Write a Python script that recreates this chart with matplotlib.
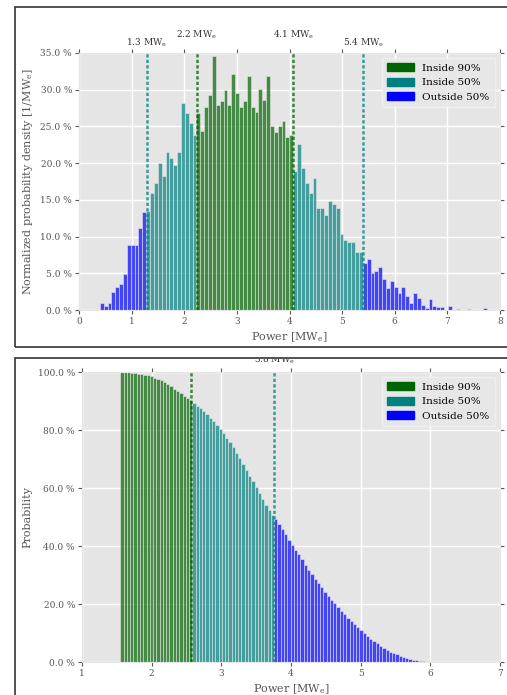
import numpy as np
import matplotlib
matplotlib.use('Agg')
import matplotlib.pyplot as plt
from matplotlib.patches import Patch, Rectangle
from matplotlib.ticker import FuncFormatter, MultipleLocator
from matplotlib.transforms import (Bbox, TransformedBbox,
                                   blended_transform_factory,
                                   ScaledTranslation)

# top panel: histogram of power (density in % per MWe)
pdf_start = 0.395
pdf_width = 0.0735
pdf_values = [
    0.9, 0.55, 1.0, 2.5, 3.1, 3.5, 4.9, 8.9, 8.9, 8.9, 11.1, 13.3,
    13.5, 16.0, 17.3, 20.0, 18.2, 21.5, 20.7, 19.8, 21.5, 28.2, 26.8, 25.5,
    23.8,
    26.8, 24.4, 27.6, 29.3, 34.6, 27.9, 28.4, 30.0, 27.9, 32.1, 29.5, 27.6,
    28.4, 31.8, 27.7, 26.9, 30.1, 28.6, 31.8, 25.0, 24.3, 25.1, 25.7, 23.5,
    23.8,
    18.9, 22.6, 19.4, 17.3, 16.0, 18.0, 13.9, 13.9, 12.9, 14.9, 14.4, 13.9,
    10.4, 9.6, 9.2, 9.3, 7.9, 7.9,
    6.4, 6.9, 5.0, 5.35, 5.8, 4.2, 3.0, 4.0, 3.1, 2.3, 3.1, 1.9, 1.0, 2.3,
    1.6, 0.7, 0.3, 1.5, 0.5, 0.4, 0.4, 0.0, 0.6, 0.0, 0.2, 0.0, 0.0, 0.1,
    0.0, 0.0, 0.0, 0.3,
]
pdf_lines = [1.29, 2.24, 4.07, 5.40]

# bottom panel: exceedance probability (%)
cdf_start = 1.55
cdf_width = 0.047
cdf_values = [
    100.0, 100.0, 100.0, 99.8, 99.6, 99.4, 99.2, 99.0, 98.8, 98.5, 98.1,
    97.7, 97.2, 96.7, 95.9, 95.1, 94.3, 93.5, 92.7, 91.8, 91.0, 90.2,
    89.3, 88.4, 87.6, 86.6, 85.4, 84.2, 83.0, 81.6, 80.2, 78.8, 77.3, 75.7,
    74.0, 72.2, 70.2, 68.2, 66.3, 64.3, 62.3, 60.3, 58.2, 56.1, 54.1, 52.5,
    50.7,
    49.2, 47.6, 46.0, 44.0, 42.0, 40.3, 38.7, 37.1, 35.4, 33.5, 31.8, 30.2,
    28.7, 27.1, 25.8, 24.3, 22.9, 21.5, 20.2, 18.9, 17.7, 16.5, 15.3, 14.1,
    13.0, 11.9, 10.9, 9.9, 9.0, 8.1, 7.2, 6.4, 5.6, 4.8, 4.2, 3.6, 3.1, 2.6,
    2.1, 1.7, 1.35, 1.0, 0.75, 0.55, 0.38, 0.22, 0.12, 0.05, 0.0,
]
cdf_lines = [2.57, 3.76]

legend_labels = ['Inside 90%', 'Inside 50%', 'Outside 50%']
GREEN, TEAL, BLUE = 'darkgreen', 'teal', 'blue'

plt.rcParams.update({
    'font.family': ['DejaVu Serif'],
    'mathtext.fontset': 'dejavuserif',
    'axes.facecolor': '#E5E5E5',
    'axes.edgecolor': '#E5E5E5',
    'axes.labelcolor': '#555555',
    'xtick.color': '#555555',
    'ytick.color': '#555555',
    'xtick.direction': 'out',
    'ytick.direction': 'out',
    'grid.color': 'white',
    'grid.linewidth': 1.0,
})

W, H = 507, 695
fig = plt.figure(figsize=(W / 100, H / 100), dpi=100)


def px_rect(x0, y0, x1, y1):
    # pixel box (top-left origin) -> figure fraction rect
    return [x0 / W, 1 - y1 / H, (x1 - x0) / W, (y1 - y0) / H]


def style_axes(ax):
    ax.set_axisbelow(True)
    ax.grid(True)
    ax.tick_params(top=True, right=True, length=3, width=0.8, labelsize=6.5,
                   pad=2)
    ax.yaxis.set_major_formatter(FuncFormatter(lambda v, p: '%.1f %%' % v))


def draw_bars(ax, start, width, values, colors):
    centers = start + width * (np.arange(len(values)) + 0.5)
    ax.bar(centers, values, width=width, color=colors, alpha=0.7,
           edgecolor='#EEEEEE', linewidth=0.5, zorder=2)
    return centers


def mark_line(ax, x, color, dy, clip=None):
    ax.axvline(x, color=color, ls=(0, (1.3, 0.9)), lw=1.8, alpha=0.75,
               zorder=3)
    trans = (blended_transform_factory(ax.transData, ax.transAxes)
             + ScaledTranslation(0, dy / 100, fig.dpi_scale_trans))
    t = ax.text(x, 1.0, r'%.1f MW$_\mathrm{e}$' % x, transform=trans,
                ha='center', va='center', fontsize=6.5, color='#333333')
    if clip is not None:
        t.set_clip_box(TransformedBbox(Bbox.from_extents(*clip),
                                       fig.transFigure))
        t.set_clip_on(True)


def add_legend(ax):
    handles = [Patch(facecolor=c, edgecolor=c) for c in (GREEN, TEAL, BLUE)]
    leg = ax.legend(handles, legend_labels, loc='upper right', fontsize=7.5,
                    frameon=True, fancybox=False, handlelength=2.6,
                    handleheight=0.8, borderpad=0.5, labelspacing=0.45)
    leg.get_frame().set_facecolor('#E8E8E8')
    leg.get_frame().set_edgecolor('#F2F2F2')


# panel frames
fig.patches.append(Rectangle((15 / W, 1 - 347 / H), 1.2, 340 / H,
                             transform=fig.transFigure, fill=False,
                             edgecolor='#333333', lw=1.2))
fig.patches.append(Rectangle((15 / W, -0.05), 1.2, 1 - 358 / H + 0.05,
                             transform=fig.transFigure, fill=False,
                             edgecolor='#333333', lw=1.2))

# ---- top: probability density ----
ax1 = fig.add_axes(px_rect(79, 53, 500, 310))
style_axes(ax1)
centers = pdf_start + pdf_width * (np.arange(len(pdf_values)) + 0.5)
cols = []
for c in centers:
    if c < pdf_lines[0] or c > pdf_lines[3]:
        cols.append(BLUE)
    elif pdf_lines[1] < c < pdf_lines[2]:
        cols.append(GREEN)
    else:
        cols.append(TEAL)
draw_bars(ax1, pdf_start, pdf_width, pdf_values, cols)
for x, col, dy in zip(pdf_lines, [TEAL, GREEN, GREEN, TEAL],
                      [10, 18, 18, 10]):
    mark_line(ax1, x, col, dy)
ax1.set_xlim(0, 8)
ax1.set_ylim(0, 35)
ax1.xaxis.set_major_locator(MultipleLocator(1))
ax1.yaxis.set_major_locator(MultipleLocator(5))
ax1.set_xlabel(r'Power [MW$_\mathrm{e}$]', fontsize=8, labelpad=3)
ax1.set_ylabel(r'Normalized probability density [1/MW$_\mathrm{e}$]',
               fontsize=8, labelpad=4)
add_legend(ax1)

# ---- bottom: exceedance probability ----
ax2 = fig.add_axes(px_rect(82, 372, 500, 662))
style_axes(ax2)
centers = cdf_start + cdf_width * (np.arange(len(cdf_values)) + 0.5)
cols = [GREEN if c < cdf_lines[0] else TEAL if c < cdf_lines[1] else BLUE
        for c in centers]
draw_bars(ax2, cdf_start, cdf_width, cdf_values, cols)
clip = (0, 0, 1, 1 - 359 / H)
for x, col, dy in zip(cdf_lines, [GREEN, TEAL], [20, 12]):
    mark_line(ax2, x, col, dy, clip=clip)
ax2.set_xlim(1, 7)
ax2.set_ylim(0, 100)
ax2.xaxis.set_major_locator(MultipleLocator(1))
ax2.yaxis.set_major_locator(MultipleLocator(20))
ax2.set_xlabel(r'Power [MW$_\mathrm{e}$]', fontsize=8, labelpad=3)
ax2.set_ylabel('Probability', fontsize=8, labelpad=4)
add_legend(ax2)

fig.savefig('out.png', dpi=100)
